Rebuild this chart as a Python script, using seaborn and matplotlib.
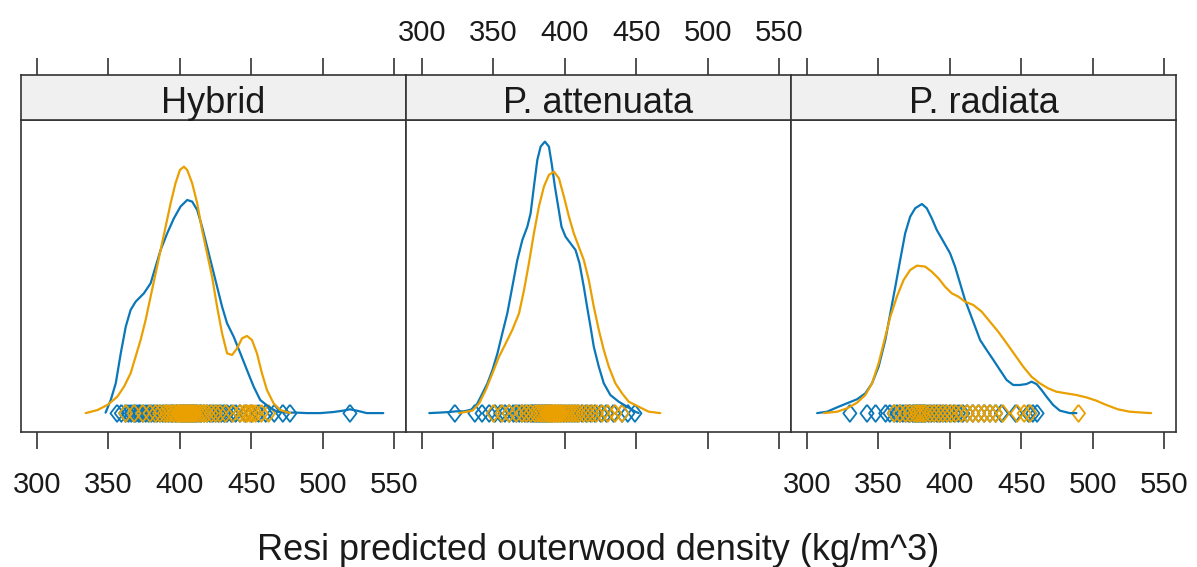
import pandas as pd
import matplotlib
matplotlib.use("Agg")
import matplotlib.pyplot as plt
import seaborn as sns

# ---- panel / axis text ----
species = ["Hybrid", "P. attenuata", "P. radiata"]
x_ticks = [300, 350, 400, 450, 500, 550]
x_label = "Resi predicted outerwood density (kg/m^3)"
groups = ["group 1", "group 2"]
group_colors = ["#0A77B8", "#E9A000"]

# ---- estimated density curves (x in kg/m^3, density in 1e-3 per kg/m^3) ----
hyb_g1_x = [348.0, 351.6, 355.1, 358.6, 362.1, 365.5, 369.0, 374.8, 379.5, 383.0,
            386.5, 391.1, 395.8, 400.4, 405.1, 408.6, 412.1, 415.5, 419.0, 422.5,
            426.0, 429.5, 433.0, 437.6, 442.3, 446.9, 451.6, 456.2, 462.1, 467.9,
            474.8, 481.8, 488.8, 498.1, 507.4, 514.4, 519.0, 523.7, 530.7, 542.3]
hyb_g1_d = [0.06, 1.13, 2.54, 5.08, 7.34, 8.75, 9.45, 10.16, 11.01, 12.42,
            13.83, 15.24, 16.51, 17.50, 18.06, 17.92, 17.21, 15.80, 14.11, 12.42,
            10.72, 9.03, 7.62, 6.49, 5.08, 3.67, 2.26, 1.13, 0.56, 0.14,
            0.06, 0.06, 0.02, 0.02, 0.11, 0.23, 0.34, 0.23, 0.02, 0.02]
hyb_g2_x = [334.1, 342.3, 349.3, 356.2, 360.9, 365.5, 369.0, 372.5, 376.0, 379.5,
            383.0, 386.5, 390.0, 393.5, 396.9, 400.0, 402.8, 405.1, 408.6, 412.1,
            415.5, 419.0, 422.5, 426.0, 429.5, 433.0, 436.5, 440.0, 443.5, 446.9,
            450.4, 453.9, 457.4, 460.9, 465.5, 470.2, 477.2]
hyb_g2_d = [0.02, 0.28, 0.71, 1.41, 2.26, 3.39, 4.80, 6.21, 7.90, 9.88,
            11.85, 13.83, 15.80, 17.78, 19.47, 20.60, 20.88, 20.60, 19.47, 17.78,
            15.52, 13.55, 11.57, 9.03, 6.77, 5.08, 4.94, 5.50, 6.35, 6.55,
            6.21, 5.08, 3.39, 1.98, 0.85, 0.28, 0.02]

att_g1_x = [305.1, 312.1, 319.0, 323.7, 329.5, 335.3, 338.8, 342.3, 345.8, 349.3,
            352.8, 356.2, 359.7, 363.2, 366.7, 370.2, 373.7, 376.0, 378.3, 380.7,
            383.0, 386.0, 388.8, 390.7, 393.0, 395.3, 397.6, 400.4, 403.9, 407.4,
            410.2, 413.2, 415.5, 417.9, 420.2, 423.7, 427.2, 431.8, 437.6, 443.5,
            449.3, 451.6]
att_g1_d = [0.02, 0.06, 0.11, 0.17, 0.17, 0.34, 0.85, 1.69, 2.54, 3.67,
            5.08, 6.77, 8.47, 10.72, 12.98, 14.67, 15.80, 16.93, 19.19, 21.45,
            22.58, 23.00, 22.58, 21.17, 19.19, 17.50, 15.80, 14.96, 14.39, 13.83,
            12.70, 10.72, 9.03, 7.34, 5.64, 3.95, 2.54, 1.55, 0.99, 0.56,
            0.14, 0.02]
att_g2_x = [326.0, 335.3, 340.0, 344.6, 349.3, 353.9, 358.6, 363.2, 367.9, 371.4,
            374.8, 378.3, 381.8, 385.3, 388.8, 392.3, 395.8, 399.3, 402.8, 406.2,
            409.7, 413.2, 416.7, 420.2, 423.7, 427.2, 430.7, 435.3, 440.0, 444.6,
            451.6, 458.6, 466.7]
att_g2_d = [0.02, 0.23, 0.85, 1.98, 3.39, 4.80, 5.93, 7.06, 8.47, 10.44,
            12.70, 15.24, 17.50, 19.19, 20.18, 20.46, 19.90, 18.34, 16.65, 15.24,
            14.11, 12.98, 11.29, 9.03, 7.06, 5.36, 3.95, 2.54, 1.69, 0.99,
            0.56, 0.14, 0.02]

rad_g1_x = [307.1, 314.1, 321.1, 328.0, 335.0, 340.8, 345.5, 350.1, 354.8, 358.3,
            361.8, 365.2, 368.7, 372.2, 375.7, 380.4, 383.8, 387.3, 390.8, 395.5,
            400.1, 403.6, 407.1, 410.6, 414.1, 417.6, 421.1, 425.7, 430.4, 435.0,
            439.7, 444.3, 449.0, 453.6, 457.1, 460.6, 464.1, 467.6, 472.2, 476.9,
            483.8, 488.5]
rad_g1_d = [0.02, 0.14, 0.51, 0.85, 1.19, 1.69, 2.54, 3.95, 6.21, 8.47,
            10.72, 12.98, 15.24, 16.65, 17.36, 17.72, 17.36, 16.51, 15.52, 14.53,
            13.55, 12.42, 11.01, 9.59, 8.47, 7.34, 6.21, 5.36, 4.52, 3.67,
            2.82, 2.40, 2.40, 2.48, 2.68, 2.48, 1.98, 1.41, 0.71, 0.23,
            0.02, 0.02]
rad_g2_x = [311.8, 321.1, 328.0, 335.0, 340.8, 345.5, 350.1, 354.8, 358.3, 362.9,
            367.6, 372.2, 376.9, 382.7, 387.3, 392.0, 396.6, 401.3, 405.9, 410.6,
            416.4, 422.2, 428.0, 433.8, 439.7, 445.5, 451.3, 457.1, 462.9, 468.7,
            474.5, 481.5, 488.5, 495.5, 502.5, 509.4, 517.6, 525.7, 535.0, 540.8]
rad_g2_d = [0.02, 0.14, 0.42, 0.90, 1.55, 2.54, 4.23, 6.49, 8.18, 9.88,
            11.29, 12.13, 12.50, 12.42, 11.99, 11.43, 10.72, 10.16, 9.88, 9.45,
            9.17, 8.61, 7.76, 6.91, 5.93, 4.94, 3.95, 3.10, 2.54, 2.12,
            1.83, 1.69, 1.55, 1.35, 1.07, 0.71, 0.34, 0.14, 0.06, 0.02]

# ---- individual observations (kg/m^3) ----
hyb_g1_obs = [356, 359, 362, 364, 366, 368, 369, 371, 372, 374, 376, 378, 380, 382,
              384, 386, 388, 390, 392, 394, 395, 397, 398, 400, 401, 402, 403, 404,
              405, 406, 407, 408, 409, 410, 411, 412, 414, 415, 417, 419, 421, 423,
              425, 427, 429, 431, 433, 436, 439, 442, 446, 450, 455, 460, 466, 472,
              477, 519]
hyb_g2_obs = [362, 368, 374, 379, 383, 386, 389, 391, 393, 395, 396, 398, 399, 400,
              401, 402, 403, 404, 405, 406, 407, 408, 409, 410, 411, 413, 415, 417,
              419, 422, 425, 428, 432, 437, 442, 445, 447, 449, 451, 453, 457, 462]
att_g1_obs = [323, 337, 342, 347, 351, 355, 358, 361, 364, 366, 368, 370, 372, 374,
              376, 377, 378, 379, 380, 381, 382, 383, 384, 385, 386, 387, 388, 389,
              390, 391, 393, 395, 397, 399, 401, 403, 405, 407, 409, 412, 415, 418,
              421, 425, 429, 434, 440, 444, 449]
att_g2_obs = [350, 356, 361, 366, 370, 373, 376, 379, 381, 383, 385, 387, 388, 389,
              390, 391, 392, 393, 394, 395, 396, 397, 398, 400, 402, 404, 406, 408,
              410, 413, 416, 419, 422, 426, 430, 435, 440]
rad_g1_obs = [330, 342, 348, 355, 358, 361, 363, 365, 367, 369, 371, 372, 374, 375,
              376, 377, 378, 379, 380, 381, 382, 383, 385, 387, 389, 391, 393, 395,
              397, 400, 403, 406, 409, 412, 416, 420, 424, 428, 432, 436, 446, 455,
              458, 461]
rad_g2_obs = [361, 365, 369, 372, 375, 377, 379, 381, 383, 386, 389, 392, 395, 398,
              401, 404, 408, 412, 416, 420, 424, 428, 432, 437, 447, 452, 456, 490]

curve_sets = {
    "Hybrid": [(hyb_g1_x, hyb_g1_d), (hyb_g2_x, hyb_g2_d)],
    "P. attenuata": [(att_g1_x, att_g1_d), (att_g2_x, att_g2_d)],
    "P. radiata": [(rad_g1_x, rad_g1_d), (rad_g2_x, rad_g2_d)],
}
obs_sets = {
    "Hybrid": [hyb_g1_obs, hyb_g2_obs],
    "P. attenuata": [att_g1_obs, att_g2_obs],
    "P. radiata": [rad_g1_obs, rad_g2_obs],
}

curves = pd.concat(
    [pd.DataFrame({"species": sp, "group": groups[i], "x": xs, "density": ds})
     for sp, sets in curve_sets.items() for i, (xs, ds) in enumerate(sets)],
    ignore_index=True)
obs = pd.concat(
    [pd.DataFrame({"species": sp, "group": groups[i], "value": vals, "level": 0.0})
     for sp, sets in obs_sets.items() for i, vals in enumerate(sets)],
    ignore_index=True)

# ---- styling ----
sns.set_theme(style="white")
plt.rcParams["font.family"] = ["Liberation Sans", "DejaVu Sans"]
frame_col = "#333333"
text_col = "#1a1a1a"
# slightly tall open diamond
tall_diamond = [(0, 1), (0.77, 0), (0, -1), (-0.77, 0), (0, 1)]

W, H = 1197, 567
fig = plt.figure(figsize=(W / 100, H / 100), dpi=100)
fig.patch.set_facecolor("white")

left_px, right_px = 21, 1176
panel_top, panel_bot = 120, 432
strip_top = 75
pw = (right_px - left_px) / 3
xlim = (288.8, 558.2)
ylim = (-1.58, 24.83)
tick_size = 21

for k, sp in enumerate(species):
    x0 = (left_px + k * pw) / W
    ax = fig.add_axes([x0, 1 - panel_bot / H, pw / W, (panel_bot - panel_top) / H])
    st = fig.add_axes([x0, 1 - panel_top / H, pw / W, (panel_top - strip_top) / H])

    for gi, g in enumerate(groups):
        c = curves[(curves.species == sp) & (curves.group == g)]
        sns.lineplot(data=c, x="x", y="density", color=group_colors[gi],
                     sort=False, estimator=None, linewidth=1.6, ax=ax, legend=False)
        o = obs[(obs.species == sp) & (obs.group == g)]
        sns.scatterplot(data=o, x="value", y="level", marker=tall_diamond, s=150,
                        facecolors="none", edgecolor=group_colors[gi],
                        linewidth=1.3, ax=ax, legend=False)

    ax.set_xlim(*xlim)
    ax.set_ylim(*ylim)
    ax.set_yticks([])
    ax.set_xlabel("")
    ax.set_ylabel("")
    ax.set_xticks(x_ticks)
    ax.tick_params(axis="x", bottom=True, top=False, direction="out", length=12,
                   width=1.2, color=frame_col, labelsize=tick_size,
                   labelcolor=text_col, pad=16, labelbottom=(k != 1))
    for s in ax.spines.values():
        s.set_color(frame_col)
        s.set_linewidth(1.2)

    st.set_facecolor("#F0F0F0")
    st.set_xlim(*xlim)
    st.set_ylim(0, 1)
    st.set_yticks([])
    st.set_xticks(x_ticks)
    st.tick_params(axis="x", bottom=False, top=True, direction="out", length=12,
                   width=1.2, color=frame_col, labelsize=tick_size,
                   labelcolor=text_col, pad=8, labelbottom=False,
                   labeltop=(k == 1))
    for s in st.spines.values():
        s.set_color(frame_col)
        s.set_linewidth(1.2)
    st.text(0.5, 7 / 45, sp, transform=st.transAxes, ha="center", va="baseline",
            fontsize=26, color=text_col)

fig.text(0.5, 1 - 560 / H, x_label, ha="center", va="baseline", fontsize=26,
         color=text_col)

fig.savefig("out.png", dpi=100, facecolor="white")
